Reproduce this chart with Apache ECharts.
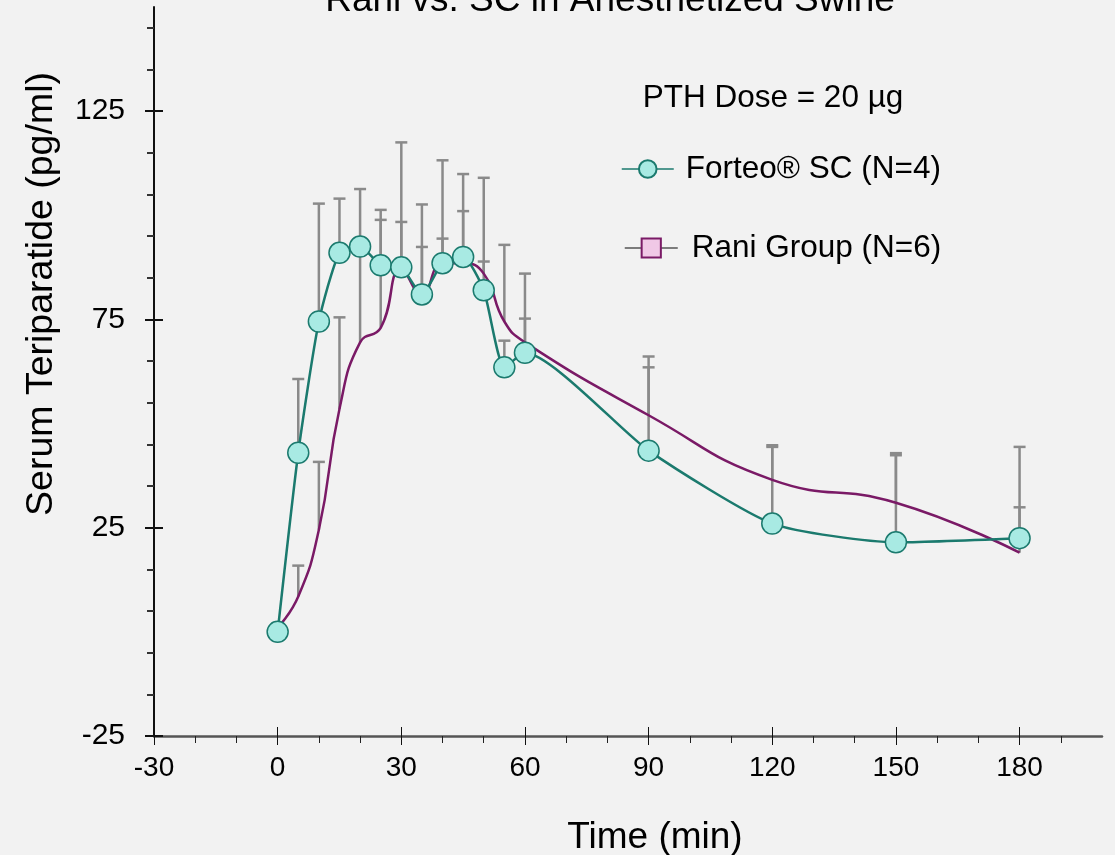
<!DOCTYPE html>
<html><head><meta charset="utf-8">
<script src="https://cdn.jsdelivr.net/npm/echarts@6/dist/echarts.min.js"></script>
<style>html,body{margin:0;padding:0;background:#f2f2f2}#c{width:1115px;height:855px}</style>
</head><body><div id="c"></div>
<script>
// ---- data ----
const times = [0, 5, 10, 15, 20, 25, 30, 35, 40, 45, 50, 55, 60, 90, 120, 150, 180];
const forteo = [0, 43, 74.5, 91, 92.5, 88, 87.5, 81, 88.5, 90, 82, 63.5, 67, 43.5, 26, 21.5, 22.5];
const rani = [1, 8.5, 24.5, 53.5, 69.5, 73, 87, 81, 88.5, 88.5, 86, 74.5, 69.5, 52, 36.5, 31, 19];
const forteoErrTop = [null, 60.7, 102.8, 104.0, null, 98.9, 98.4, 92.4, 94.4, 101.0, 88.9, 69.9, 75.2, 63.5, 44.4, 42.4, 29.9];
const raniErrTop = [null, 15.9, 40.8, 75.5, 106.3, 101.3, 117.5, 102.6, 113.2, 109.9, 109.0, 92.9, 86.0, 66.1, 44.8, 42.9, 44.4];
const xTickLabels = [-30, 0, 30, 60, 90, 120, 150, 180];
const xMinorTicks = [-20, -10, 10, 20, 40, 50, 70, 80, 100, 110, 130, 140, 160, 170, 190];
const yTickLabels = [-25, 25, 75, 125];
const yMinorTicks = [-15, -5, 5, 15, 35, 45, 55, 65, 85, 95, 105, 115, 135, 145];
const seriesNames = ['Forteo® SC (N=4)', 'Rani Group (N=6)'];
const titleText = 'Rani vs. SC in Anesthetized Swine';
const doseText = 'PTH Dose = 20 µg';
const xName = 'Time (min)';
const yName = 'Serum Teriparatide (pg/ml)';

// ---- chart ----
const FONT = '"Liberation Sans", Arial, sans-serif';
const chart = echarts.init(document.getElementById('c'), null, {renderer: 'canvas'});

function errRender(params, api) {
  const x = api.value(0), base = api.value(1), top = api.value(2);
  const p0 = api.coord([x, base]);
  const p1 = api.coord([x, top]);
  const hw = 6;
  const style = {stroke: '#8a8a8a', lineWidth: 2.5};
  return {type: 'group', children: [
    {type: 'line', shape: {x1: p0[0], y1: p0[1], x2: p1[0], y2: p1[1]}, style: style},
    {type: 'line', shape: {x1: p1[0] - hw, y1: p1[1], x2: p1[0] + hw, y2: p1[1]}, style: style}
  ]};
}

const baseX = {type: 'value', min: -30, max: 200, position: 'bottom', splitLine: {show: false}};
const baseY = {type: 'value', min: -25, max: 150, position: 'left', splitLine: {show: false}};

const option = {
  backgroundColor: '#f2f2f2',
  animation: false,
  textStyle: {fontFamily: FONT},
  grid: {left: 154, right: 13, top: 7, bottom: 119, containLabel: false, outerBoundsMode: 'none'},
  xAxis: [
    Object.assign({}, baseX, {
      axisLine: {onZero: false, lineStyle: {color: '#555', width: 2.5}},
      axisTick: {customValues: xMinorTicks, length: 7, lineStyle: {color: '#222', width: 1}},
      axisLabel: {customValues: xTickLabels, fontSize: 28, margin: 18, color: '#000', fontFamily: FONT}
    }),
    Object.assign({}, baseX, {
      axisLine: {show: false, onZero: false},
      axisTick: {customValues: xTickLabels, inside: true, length: 9, lineStyle: {color: '#111', width: 1}},
      axisLabel: {show: false}
    }),
    Object.assign({}, baseX, {
      axisLine: {show: false, onZero: false},
      axisTick: {customValues: xTickLabels, inside: false, length: 9, lineStyle: {color: '#111', width: 1}},
      axisLabel: {show: false}
    })
  ],
  yAxis: [
    Object.assign({}, baseY, {
      axisLine: {show: true, onZero: false, lineStyle: {color: '#111', width: 2}},
      axisTick: {show: true, customValues: yMinorTicks, length: 7, lineStyle: {color: '#333', width: 2}},
      axisLabel: {customValues: yTickLabels, fontSize: 30, margin: 29, color: '#000', fontFamily: FONT}
    }),
    Object.assign({}, baseY, {
      axisLine: {show: false, onZero: false},
      axisTick: {show: true, customValues: yTickLabels, inside: true, length: 9, lineStyle: {color: '#111', width: 2}},
      axisLabel: {show: false}
    }),
    Object.assign({}, baseY, {
      axisLine: {show: false, onZero: false},
      axisTick: {show: true, customValues: yTickLabels, inside: false, length: 9, lineStyle: {color: '#111', width: 2}},
      axisLabel: {show: false}
    })
  ],
  legend: [
    {
      data: [{name: seriesNames[0], lineStyle: {color: '#1b7a6e', width: 1.5}}], left: 621, top: 153, padding: 0,
      itemWidth: 52, itemHeight: 22, selectedMode: false,
      textStyle: {fontSize: 31.5, color: '#000', fontFamily: FONT, padding: [0, 0, 0, 7]}
    },
    {
      data: [{name: seriesNames[1], lineStyle: {color: '#555', width: 1.5}}], left: 624, top: 232, padding: 0,
      itemWidth: 53, itemHeight: 24, selectedMode: false,
      textStyle: {fontSize: 31.5, color: '#000', fontFamily: FONT, padding: [0, 0, 0, 9]}
    }
  ],
  graphic: [
    {type: 'text', x: 610, y: 1, style: {text: titleText, fontSize: 37, fontFamily: FONT, fill: '#000', align: 'center', verticalAlign: 'middle'}},
    {type: 'text', x: 773, y: 98.5, style: {text: doseText, fontSize: 31.5, fontFamily: FONT, fill: '#000', align: 'center', verticalAlign: 'middle'}},
    {type: 'text', x: 655, y: 838, style: {text: xName, fontSize: 37, fontFamily: FONT, fill: '#000', align: 'center', verticalAlign: 'middle'}},
    {type: 'text', x: 42, y: 294, rotation: Math.PI / 2, style: {text: yName, fontSize: 37.5, fontFamily: FONT, fill: '#000', align: 'center', verticalAlign: 'middle'}}
  ],
  series: [
    {
      type: 'custom', name: 'rani-err', renderItem: errRender, z: 1, silent: true,
      encode: {x: 0, y: [1, 2]},
      data: times.map((t, i) => [t, rani[i], raniErrTop[i]]).filter(d => d[2] != null)
    },
    {
      type: 'custom', name: 'forteo-err', renderItem: errRender, z: 1, silent: true,
      encode: {x: 0, y: [1, 2]},
      data: times.map((t, i) => [t, forteo[i], forteoErrTop[i]]).filter(d => d[2] != null)
    },
    {
      type: 'line', name: seriesNames[1], z: 2,
      data: times.map((t, i) => [t, rani[i]]),
      smooth: 0.5, symbol: 'rect', showSymbol: false,
      lineStyle: {color: '#7a1a66', width: 2.5},
      itemStyle: {color: '#f0c8e6', borderColor: '#7a1a66', borderWidth: 1.5},
      emphasis: {disabled: true}
    },
    {
      type: 'line', name: seriesNames[0], z: 3,
      data: times.map((t, i) => [t, forteo[i]]),
      smooth: 0.2, symbol: 'circle', symbolSize: 21,
      lineStyle: {color: '#1b7a6e', width: 2.5},
      itemStyle: {color: '#a8eae3', borderColor: '#1b7a6e', borderWidth: 1.5},
      emphasis: {disabled: true}
    }
  ]
};
chart.setOption(option);
</script>
</body></html>
